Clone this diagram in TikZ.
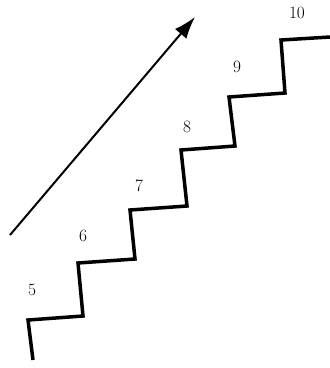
\documentclass[tikz,border=0pt]{standalone}
\usepackage{tikz}
\usetikzlibrary{arrows.meta}

\begin{document}
\begin{tikzpicture}[x=1pt,y=-1pt,
  stair/.style={draw=black,line width=3.5pt,line join=miter},
  arrow/.style={-{Latex[length=22pt,width=15pt]},draw=black,line width=2pt},
  num/.style={font=\LARGE,inner sep=1pt}]
  \useasboundingbox (0,0) rectangle (330,368);
  % staircase corners
  \coordinate (s0) at (33,360);
  \coordinate (s1) at (28,320);
  \coordinate (s2) at (83,316);
  \coordinate (s3) at (78,263);
  \coordinate (s4) at (135,259);
  \coordinate (s5) at (130,210);
  \coordinate (s6) at (187,206);
  \coordinate (s7) at (181,150);
  \coordinate (s8) at (235,146);
  \coordinate (s9) at (229,97);
  \coordinate (s10) at (285,93);
  \coordinate (s11) at (281,40);
  \coordinate (s12) at (330,37);
  \draw[stair] (s0) -- (s1) -- (s2) -- (s3) -- (s4) -- (s5) -- (s6)
    -- (s7) -- (s8) -- (s9) -- (s10) -- (s11) -- (s12);
  % step numbers
  \node[num] (n5) at (32,290) {5};
  \node[num] (n6) at (83,236) {6};
  \node[num] (n7) at (139,186) {7};
  \node[num] (n8) at (187,127) {8};
  \node[num] (n9) at (237,67) {9};
  \node[num] (n10) at (297,13) {10};
  % direction
  \coordinate (tail) at (10,235);
  \coordinate (tip) at (195,17);
  \draw[arrow] (tail) -- (tip);
\end{tikzpicture}
\end{document}
